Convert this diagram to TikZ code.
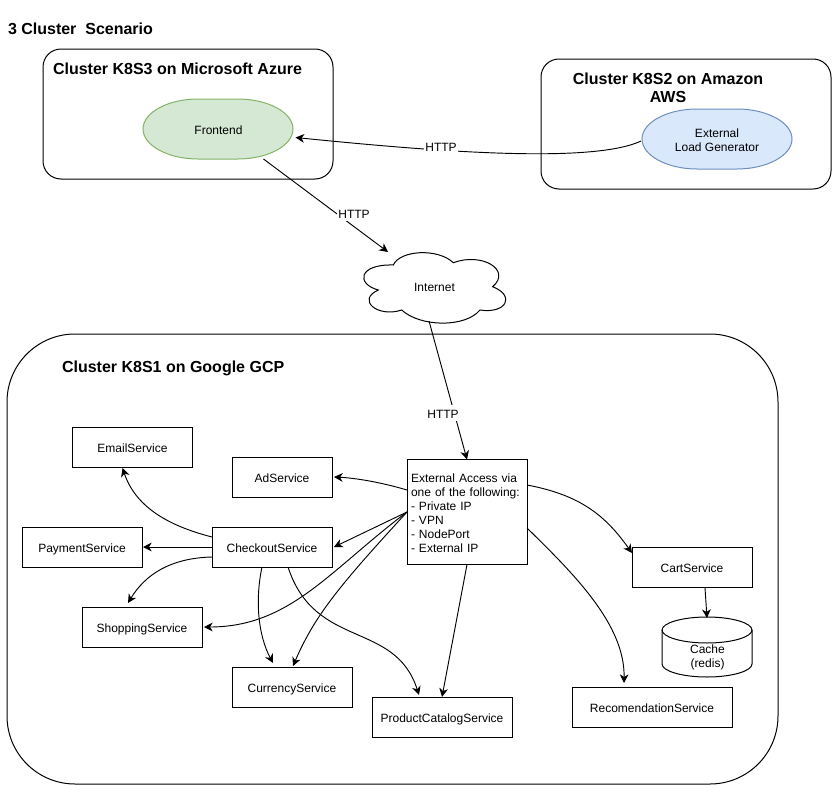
\documentclass[tikz,border=0pt]{standalone}
\usepackage{fontspec}
\setmainfont{Liberation Sans}
\usetikzlibrary{arrows.meta}
\definecolor{feGreen}{HTML}{D5E8D4}
\definecolor{feGreenD}{HTML}{82B366}
\definecolor{lgBlue}{HTML}{DAE8FC}
\definecolor{lgBlueD}{HTML}{6C8EBF}
\newlength\pxu
\setlength\pxu{0.75pt}
\tikzset{
  x=0.75pt,y=-0.75pt,
  every node/.style={inner sep=0pt,outer sep=0pt,font=\fontsize{9}{10.5}\selectfont,text=black},
  oneline/.style={text height=9pt,text depth=1pt},
  boxn/.style={draw=black,line width=0.75pt,minimum width=120\pxu,minimum height=40\pxu,align=center},
  clusterbox/.style={draw=black,line width=0.75pt,rounded corners=#1},
  heading/.style={font=\fontsize{12}{13.5}\selectfont\bfseries,align=center},
  conn/.style={draw=black,line width=0.7pt,-{Stealth[length=6.5pt,width=6.5pt,inset=2pt]}},
  lbl/.style={fill=white,inner xsep=1\pxu,inner ysep=1\pxu},
  plain/.style={minimum width=#1,align=center}
}
\begin{document}
\begin{tikzpicture}
\useasboundingbox (0,0) rectangle (832,785);

% clusters
\node[clusterbox=18\pxu,minimum width=290\pxu,minimum height=130\pxu] (azure) at (188,114) {};
\node[clusterbox=18\pxu,minimum width=290\pxu,minimum height=130\pxu] (aws) at (686,124) {};
\node[clusterbox=68\pxu,minimum width=771\pxu,minimum height=450\pxu] (gcp) at (392.5,559) {};

% headings
\node[heading,anchor=west] (title) at (8,29) {3 Cluster\ \ Scenario};
\node[heading,anchor=west] (azuretitle) at (53,69) {Cluster K8S3 on Microsoft Azure};
\node[heading] (awstitle) at (668,88) {Cluster K8S2 on Amazon\\AWS};
\node[heading,anchor=west] (gcptitle) at (62,368.5) {Cluster K8S1 on Google GCP};

% frontend and generator
\filldraw[fill=feGreen,draw=feGreenD,line width=0.75pt] (198,99) -- (238,99) .. controls (268,99) and (293,112.5) .. (293,129) .. controls (293,145.5) and (268,159) .. (238,159) -- (198,159) .. controls (168,159) and (143,145.5) .. (143,129) .. controls (143,112.5) and (168,99) .. (198,99) -- cycle;
\filldraw[fill=lgBlue,draw=lgBlueD,line width=0.75pt] (697,109) -- (737,109) .. controls (767,109) and (792,122.5) .. (792,139) .. controls (792,155.5) and (767,169) .. (737,169) -- (697,169) .. controls (667,169) and (642,155.5) .. (642,139) .. controls (642,122.5) and (667,109) .. (697,109) -- cycle;
\node[plain=150\pxu,minimum height=60\pxu,oneline] (frontend) at (218.5,129) {Frontend};
\node[plain=150\pxu,minimum height=60\pxu] (loadgen) at (717,139) {\rule{0pt}{8.5pt}External\\Load Generator};

% cloud
\draw[line width=0.75pt,fill=white] (378.3,290) .. controls (356,284) and (358,264) .. (393.3,265)
  .. controls (400,250) and (438,248) .. (453.3,262.7)
  .. controls (482,252) and (512,270) .. (492.7,286.7)
  .. controls (516,296) and (506,314) .. (480,310)
  .. controls (465,328) and (420,327) .. (401.7,310)
  .. controls (378,318) and (356,300) .. (378.3,290) -- cycle;
\node[plain=145\pxu,minimum height=69\pxu,oneline] (internet) at (434.5,286.5) {Internet};

% services
\node[boxn,oneline] (email) at (132.5,447) {EmailService};
\node[boxn,oneline,minimum width=100\pxu] (ad) at (282,477) {AdService};
\node[boxn,oneline] (checkout) at (272,547) {CheckoutService};
\node[boxn,oneline] (payment) at (82,547) {PaymentService};
\node[boxn,oneline] (shopping) at (142,627) {ShoppingService};
\node[boxn,oneline] (currency) at (292,687) {CurrencyService};
\node[boxn,oneline,minimum width=140\pxu] (product) at (442,717) {ProductCatalogService};
\node[boxn,minimum height=105\pxu,text width=112\pxu,align=left] (ext) at (467,512) {\rule{0pt}{8.5pt}External Access via\\one of the following:\\- Private IP\\- VPN\\- NodePort\\- External IP};
\node[boxn,oneline] (cart) at (692,567) {CartService};
\node[boxn,oneline,minimum width=160\pxu] (recom) at (652,707) {RecomendationService};

% cache
\draw[line width=0.75pt,fill=white] (662,630) .. controls (662,623) and (682,617) .. (707,617) .. controls (732,617) and (752,623) .. (752,630) -- (752,664) .. controls (752,671) and (732,677) .. (707,677) .. controls (682,677) and (662,671) .. (662,664) -- cycle;
\draw[line width=0.75pt] (662,630) .. controls (662,637) and (682,643) .. (707,643) .. controls (732,643) and (752,637) .. (752,630);
\node[plain=90\pxu,minimum height=60\pxu] (cache) at (707,647) {};
\node (cachetext) at (707.5,657.5) [align=center] {Cache\\(redis)};

% connectors
\draw[conn] ([xshift=-1\pxu,yshift=-2\pxu]loadgen.west) .. controls (590,165) and (420,150) .. ([xshift=2\pxu,yshift=-8.5\pxu]frontend.east);
\draw[conn] ([xshift=45\pxu]frontend.south) -- ([xshift=-46.5\pxu]internet.north);
\draw[conn] ([xshift=-5.5\pxu]internet.south) -- (ext.north);

\draw[conn] ([yshift=22\pxu]ext.west) .. controls (380,482) and (355,478) .. ([xshift=2\pxu]ad.east);
\draw[conn] (ext.west) -- ([xshift=2\pxu]checkout.east);
\draw[conn] (ext.west) .. controls (330,570) and (290,627) .. ([xshift=2\pxu]shopping.east);
\draw[conn] (ext.west) .. controls (340,585) and (315,615) .. ([xshift=1\pxu,yshift=1\pxu]currency.north);

\draw[conn] ([yshift=10\pxu]checkout.west) .. controls (165,525) and (135,505) .. ([xshift=-10\pxu,yshift=-1\pxu]email.south);
\draw[conn] (checkout.west) -- ([xshift=1\pxu]payment.east);
\draw[conn] ([yshift=-10\pxu]checkout.west) .. controls (170,558) and (145,575) .. ([xshift=-14\pxu,yshift=4\pxu]shopping.north);
\draw[conn] ([xshift=-10\pxu]checkout.south) .. controls (255,600) and (258,635) .. ([xshift=-19\pxu,yshift=4\pxu]currency.north);
\draw[conn] ([xshift=16\pxu]checkout.south) .. controls (315,650) and (395,620) .. ([xshift=-23\pxu,yshift=2\pxu]product.north);

\draw[conn] (ext.south) -- (product.north);
\draw[conn] ([yshift=27\pxu]ext.east) .. controls (580,495) and (605,515) .. ([yshift=14\pxu]cart.west);
\draw[conn] ([yshift=-16\pxu]ext.east) .. controls (575,575) and (625,625) .. ([xshift=-28\pxu,yshift=4\pxu]recom.north);
\draw[conn] ([xshift=13\pxu,yshift=-1\pxu]cart.south) -- ([yshift=-1\pxu]cache.north);

% labels
\node[lbl,oneline] (http1) at (441,146) {HTTP};
\node[lbl,oneline] (http2) at (354,213) {HTTP};
\node[lbl,oneline] (http3) at (443,413) {HTTP};
\end{tikzpicture}
\end{document}
